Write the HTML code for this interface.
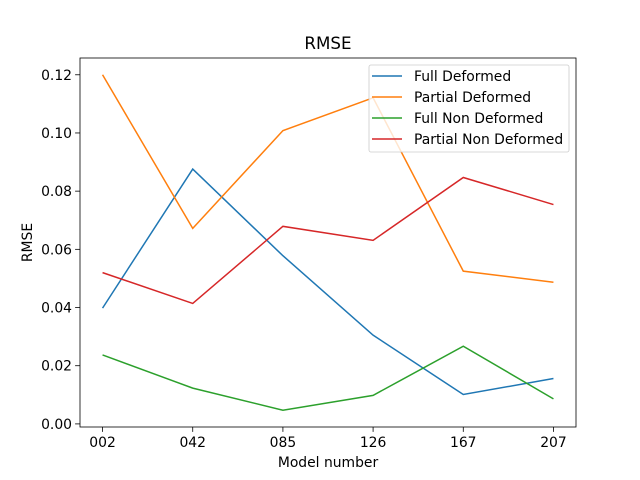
<!DOCTYPE html>
<html><head><meta charset="utf-8"><style>body{margin:0;background:#fff}svg{display:block;font-family:"DejaVu Sans","Liberation Sans",sans-serif}</style></head>
<body>
<svg id="chart" width="640" height="480" viewBox="0 0 640 480"></svg>
<script>
const categories = ["002","042","085","126","167","207"];
const seriesNames = ["Full Deformed","Partial Deformed","Full Non Deformed","Partial Non Deformed"];
const fullDeformed = [0.0398,0.0876,0.0578,0.0305,0.0101,0.0156];
const partialDeformed = [0.1200,0.0672,0.1008,0.1121,0.0525,0.0487];
const fullNonDeformed = [0.0237,0.0123,0.0047,0.0098,0.0267,0.0086];
const partialNonDeformed = [0.0520,0.0414,0.0679,0.0631,0.0847,0.0754];
const yTicks = [0.00,0.02,0.04,0.06,0.08,0.10,0.12];
const colors = ["#1f77b4","#ff7f0e","#2ca02c","#d62728"];
const allSeries = [fullDeformed,partialDeformed,fullNonDeformed,partialNonDeformed];

const L=80,R=576,T=58,B=427;
const NS="http://www.w3.org/2000/svg";
const svg=document.getElementById('chart');
function mk(tag,attrs,parent){const e=document.createElementNS(NS,tag);for(const k in attrs)e.setAttribute(k,attrs[k]);(parent||svg).appendChild(e);return e;}
const n=categories.length;
const x0=-0.05*(n-1), x1=(n-1)*1.05;
const xs=i=>L+(i-x0)/(x1-x0)*(R-L);
let vals=allSeries.flat();let mn=Math.min(...vals),mx=Math.max(...vals);const pad=(mx-mn)*0.05;
const y0=mn-pad,y1=mx+pad;
const ys=v=>B-(v-y0)/(y1-y0)*(B-T);

const title=mk('text',{x:(L+R)/2,y:49,'text-anchor':'middle','font-size':16.7});
title.textContent='RMSE';



categories.forEach((c,i)=>{
  const g=mk('g',{});
  
  
  mk('line',{x1:xs(i),x2:xs(i),y1:B,y2:B+4.9,stroke:'#000','stroke-width':0.8},g);
  const t=mk('text',{x:xs(i),y:B+20,'text-anchor':'middle','font-size':13.9},g);t.textContent=c;
});
yTicks.forEach(v=>{
  const g=mk('g',{});
  
  
  mk('line',{x1:L-4.9,x2:L,y1:ys(v),y2:ys(v),stroke:'#000','stroke-width':0.8},g);
  const t=mk('text',{x:L-8,y:ys(v)+5,'text-anchor':'end','font-size':13.9},g);t.textContent=v.toFixed(2);
});
const xl=mk('text',{x:(L+R)/2,y:467,'text-anchor':'middle','font-size':13.9});xl.textContent='Model number';


const yl=mk('text',{x:0,y:0,'text-anchor':'middle','font-size':13.9,transform:`translate(32,${(T+B)/2}) rotate(-90)`});yl.textContent='RMSE';



allSeries.forEach((s,k)=>{
  const p=mk('polyline',{points:s.map((v,i)=>xs(i)+','+ys(v)).join(' '),fill:'none',stroke:colors[k],'stroke-width':1.5});
  
  
});
const frame=mk('rect',{x:L,y:T,width:R-L,height:B-T,fill:'none',stroke:'#000','stroke-width':0.8});



const lg=mk('g',{});


mk('rect',{x:369,y:65,width:200,height:87,rx:2,fill:'#fff','fill-opacity':0.8,stroke:'#ccc','stroke-width':0.8},lg);
seriesNames.forEach((nm,k)=>{
  const e=mk('g',{},lg);
  
  
  const yy=76+k*21;
  mk('line',{x1:372,x2:402,y1:yy,y2:yy,stroke:colors[k],'stroke-width':1.5},e);
  const t=mk('text',{x:414,y:yy+5,'font-size':13.9},e);t.textContent=nm;
});
</script>
</body></html>
